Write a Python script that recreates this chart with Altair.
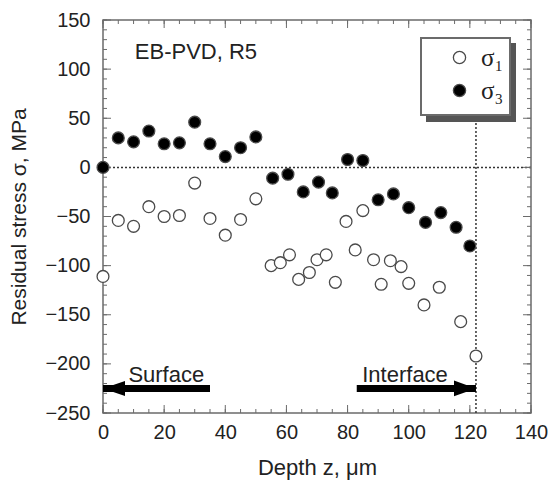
import altair as alt
import pandas as pd

# ---- data ----
s1_depth = [0, 5, 10, 15, 20, 25, 30, 35, 40, 45, 50, 55, 58, 61, 64, 67.5, 70, 73, 76,
            79.5, 82.5, 85, 88.5, 91, 94, 97.5, 100, 105, 110, 117, 122]
s1_stress = [-111, -54, -60, -40, -50, -49, -16, -52, -69, -53, -32, -100, -97, -89, -114,
             -107, -94, -89, -117, -55, -84, -44, -94, -119, -95, -101, -118, -140, -122,
             -157, -192]
s3_depth = [0, 5, 10, 15, 20, 25, 30, 35, 40, 45, 50, 55.5, 60.5, 65.5, 70.5, 75, 80, 85,
            90, 95, 100, 105.5, 110.5, 115.5, 120]
s3_stress = [0, 30, 26, 37, 24, 25, 46, 24, 11, 20, 31, -11, -7, -25, -15, -26, 8, 7, -33,
             -27, -41, -56, -46, -61, -80]
series_names = ["σ₁", "σ₃"]

x_major = list(range(0, 141, 20))
x_minor = list(range(0, 141, 5))
y_major = list(range(-250, 151, 50))
y_minor = list(range(-250, 151, 10))

note_text = ["EB-PVD, R5"]
note_x = [10.4]
note_y = [117]

arrow_labels = ["Surface", "Interface"]
arrow_label_x = [20.7, 98.8]
arrow_label_y = [-211.5, -211.5]
arrow_tail = [35, 83]
arrow_tip = [0, 122]
arrow_y = [-225, -225]

interface_depth = [122]
interface_from = [-250]
interface_to = [50]
zero_stress = [0]

W, H = 428, 393
FONT = "Liberation Sans"
TXT = "#222222"
GRAY = "#6b6b6b"

df = pd.DataFrame({
    "depth": s1_depth + s3_depth,
    "stress": s1_stress + s3_stress,
    "series": [series_names[0]] * len(s1_depth) + [series_names[1]] * len(s3_depth),
})

xs = alt.Scale(domain=[0, 140], nice=False, zero=False)
ys = alt.Scale(domain=[-250, 150], nice=False, zero=False)
x_axis = alt.Axis(values=x_major, labelPadding=9, titlePadding=15, labelFlush=False,
                  titleFontSize=22)
y_axis = alt.Axis(values=y_major, labelPadding=13, titlePadding=15, labelFlush=False,
                  titleFontSize=21)
X_TITLE = "Depth z, μm"
Y_TITLE = "Residual stress σ, MPa"


def X(field, **kw):
    return alt.X(field, scale=xs, axis=x_axis, title=X_TITLE, **kw)


def Y(field, **kw):
    return alt.Y(field, scale=ys, axis=y_axis, title=Y_TITLE, **kw)


one = pd.DataFrame({"a": [0]})

# legend box and shadow (decoration)
shadow = alt.Chart(one).mark_rect(color="#555555").encode(
    x=alt.value(323), x2=alt.value(413), y=alt.value(23), y2=alt.value(102))
box = alt.Chart(one).mark_rect(fill="white", stroke=GRAY, strokeWidth=2).encode(
    x=alt.value(318), x2=alt.value(407), y=alt.value(18), y2=alt.value(95))

zero_line = alt.Chart(pd.DataFrame({"z": zero_stress})).mark_rule(
    color="#333333", strokeDash=[2, 2], strokeWidth=1.5).encode(y=Y("z:Q"))
iface_line = alt.Chart(pd.DataFrame({"d": interface_depth, "s0": interface_from,
                                     "s1": interface_to})).mark_rule(
    color="#333333", strokeDash=[2, 2], strokeWidth=1.5).encode(
    x=X("d:Q"), y=Y("s0:Q"), y2="s1:Q")


def xticks(vals, length):
    d = pd.DataFrame({"v": vals})
    b = alt.Chart(d).mark_rule(color=GRAY, strokeWidth=1).encode(
        x=X("v:Q"), y=alt.value(H), y2=alt.value(H - length))
    t = alt.Chart(d).mark_rule(color=GRAY, strokeWidth=1).encode(
        x=X("v:Q"), y=alt.value(0), y2=alt.value(length))
    return [b, t]


def yticks(vals, length):
    d = pd.DataFrame({"v": vals})
    l = alt.Chart(d).mark_rule(color=GRAY, strokeWidth=1).encode(
        y=Y("v:Q"), x=alt.value(0), x2=alt.value(length))
    r = alt.Chart(d).mark_rule(color=GRAY, strokeWidth=1).encode(
        y=Y("v:Q"), x=alt.value(W), x2=alt.value(W - length))
    return [l, r]


ticks = xticks(x_minor, 4) + xticks(x_major, 8) + yticks(y_minor, 4) + yticks(y_major, 8)

points = alt.Chart(df).mark_point(shape="circle", filled=True, size=140, strokeWidth=1.3,
                                  stroke="#4a4a4a", opacity=1).encode(
    x=X("depth:Q"),
    y=Y("stress:Q"),
    fill=alt.Fill("series:N", scale=alt.Scale(domain=series_names, range=["white", "black"]),
                  legend=alt.Legend(orient="none", legendX=344, legendY=25, title=None,
                                    padding=0, labelFontSize=25, labelFont="Liberation Serif",
                                    labelColor=TXT, symbolSize=150, rowPadding=7,
                                    labelOffset=9, symbolStrokeWidth=1.3,
                                    symbolStrokeColor="#4a4a4a")),
)

ad = pd.DataFrame({"tail": arrow_tail, "tip": arrow_tip, "y": arrow_y,
                   "label": arrow_labels, "lx": arrow_label_x, "ly": arrow_label_y})
shafts = alt.Chart(ad).mark_rule(color="black", strokeWidth=7).encode(
    x=X("tail:Q"), x2="tip:Q", y=Y("y:Q"))
head_l = alt.Chart(ad.iloc[[0]].reset_index(drop=True)).mark_point(
    shape="M0,0L2,-0.68L2,0.68Z", size=484, filled=True, color="black", opacity=1).encode(
    x=X("tip:Q"), y=Y("y:Q"))
head_r = alt.Chart(ad.iloc[[1]].reset_index(drop=True)).mark_point(
    shape="M0,0L-2,-0.72L-2,0.72Z", size=484, filled=True, color="black", opacity=1).encode(
    x=X("tip:Q"), y=Y("y:Q"))
arrow_text = alt.Chart(ad).mark_text(font=FONT, fontSize=22, color=TXT).encode(
    x=X("lx:Q"), y=Y("ly:Q"), text="label:N")

nd = pd.DataFrame({"t": note_text, "x": note_x, "y": note_y})
note = alt.Chart(nd).mark_text(font=FONT, fontSize=22, color=TXT, align="left").encode(
    x=X("x:Q"), y=Y("y:Q"), text="t:N")

chart = alt.layer(
    zero_line, iface_line, *ticks, shadow, box, shafts, head_l, head_r, arrow_text, note, points
).properties(
    width=W, height=H,
    autosize=alt.AutoSizeParams(type="none"),
    padding={"left": 95, "top": 12, "right": 17, "bottom": 70},
).configure_view(
    stroke=GRAY, strokeWidth=1.5
).configure_axis(
    labelFont=FONT, labelFontSize=20, labelColor=TXT,
    titleFont=FONT, titleFontSize=20, titleFontWeight="normal", titleColor=TXT,
    domain=False, ticks=False, grid=False,
)

chart.save("out.html", embed_options={"renderer": "svg", "actions": False})
